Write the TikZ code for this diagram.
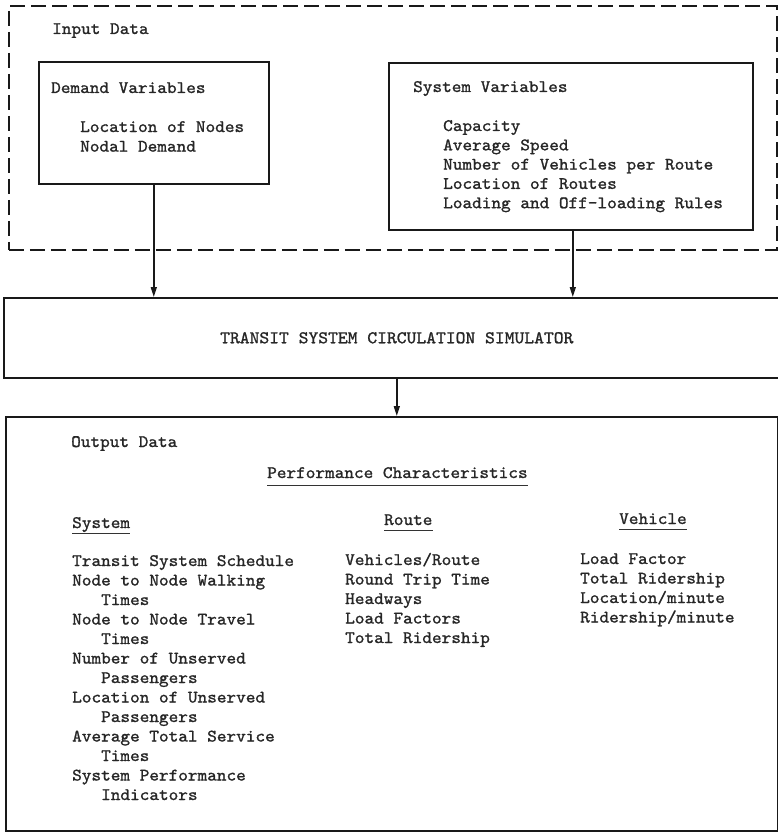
\documentclass[tikz,border=0pt]{standalone}
\usepackage{fontspec}
\newfontfamily\tw{lmmono10-regular.otf}[FakeBold=1.2, FakeStretch=1.05]
\usetikzlibrary{arrows.meta}
\begin{document}
\begin{tikzpicture}[x=1pt,y=-1pt,
  txt/.style={anchor=base west, inner sep=0pt, text=black!85, font=\tw\fontsize{17.5}{19.5}\selectfont},
  solidbox/.style={draw=black!90, line width=1.6pt, anchor=north west, inner sep=0pt},
  dashbox/.style={draw=black!90, line width=1.6pt, dash pattern=on 15pt off 6pt, anchor=north west, inner sep=0pt},
  arr/.style={draw=black!90, line width=1.4pt, -{Triangle[length=10pt,width=6pt]}},
  ul/.style={draw=black!80, line width=0.8pt}]
\useasboundingbox (0,0) rectangle (778,832);

% input data (dashed)
\node[dashbox, minimum width=768pt, minimum height=244pt] (input) at (8,5) {};
\node[txt] (inlabel) at (52,34) {Input Data};

% demand variables
\node[solidbox, minimum width=230pt, minimum height=122pt] (demand) at (38,61) {};
\node[txt] (dtitle) at (51,93) {Demand Variables};
\foreach \t [count=\i] in {{Location of Nodes},{Nodal Demand}}
  \node[txt] (d\i) at (80,{132+(\i-1)*19.6}) {\t};

% system variables
\node[solidbox, minimum width=364pt, minimum height=167pt] (sysvar) at (388,62) {};
\node[txt] (stitle) at (413,92) {System Variables};
\foreach \t [count=\i] in {{Capacity},{Average Speed},{Number of Vehicles per Route},{Location of Routes},{Loading and Off-loading Rules}}
  \node[txt] (sv\i) at (443,{131+(\i-1)*19.3}) {\t};

% simulator
\node[solidbox, minimum width=786pt, minimum height=80pt, text=black!85, font=\tw\fontsize{17.8}{19}\selectfont] (sim) at (3,297) {TRANSIT SYSTEM CIRCULATION SIMULATOR};

% output data
\node[solidbox, minimum width=772pt, minimum height=414pt] (out) at (5,416) {};
\node[txt] (outlabel) at (71,447) {Output Data};
\node[txt] (perf) at (267,478) {Performance Characteristics};
\draw[ul] ([yshift=-7pt]perf.base west) -- ([yshift=-7pt]perf.base east);

\node[txt] (hsys) at (72,528) {System};
\draw[ul] ([yshift=-5pt]hsys.base west) -- ([yshift=-5pt]hsys.base east);
\node[txt] (hroute) at (384,525) {Route};
\draw[ul] ([yshift=-5pt]hroute.base west) -- ([yshift=-5pt]hroute.base east);
\node[txt] (hveh) at (619,524) {Vehicle};
\draw[ul] ([yshift=-5pt]hveh.base west) -- ([yshift=-5pt]hveh.base east);

\foreach \t [count=\i] in {{Transit System Schedule},{Node to Node Walking},{\phantom{XXX}Times},{Node to Node Travel},{\phantom{XXX}Times},{Number of Unserved},{\phantom{XXX}Passengers},{Location of Unserved},{\phantom{XXX}Passengers},{Average Total Service},{\phantom{XXX}Times},{System Performance},{\phantom{XXX}Indicators}}
  \node[txt] (sy\i) at (72,{566+(\i-1)*19.5}) {\t};

\foreach \t [count=\i] in {{Vehicles/Route},{Round Trip Time},{Headways},{Load Factors},{Total Ridership}}
  \node[txt] (ro\i) at (345,{565+(\i-1)*19.5}) {\t};

\foreach \t [count=\i] in {{Load Factor},{Total Ridership},{Location/minute},{Ridership/minute}}
  \node[txt] (ve\i) at (580,{564+(\i-1)*19.5}) {\t};

% connectors
\draw[arr] (demand.south) -- (demand.south |- sim.north);
\draw[arr] ([xshift=2pt]sysvar.south) -- ([xshift=2pt]sysvar.south |- sim.north);
\draw[arr] (sim.south) -- (sim.south |- out.north);
\end{tikzpicture}
\end{document}
